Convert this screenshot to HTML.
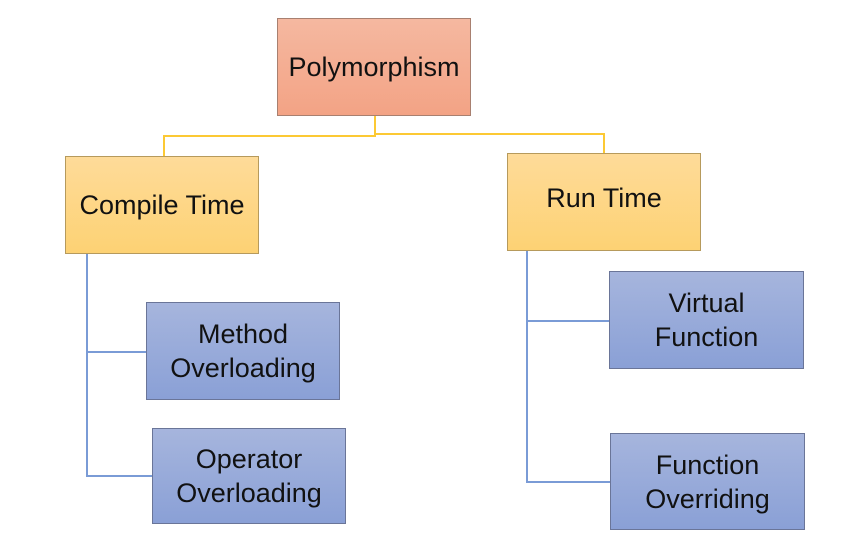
<!DOCTYPE html>
<html><head><style>
body{margin:0;width:857px;height:550px;background:#fff;position:relative;overflow:hidden;font-family:"Liberation Sans",sans-serif;}
.b{position:absolute;box-sizing:border-box;display:flex;align-items:center;justify-content:center;text-align:center;font-size:27px;line-height:34px;color:#111;white-space:nowrap;}
.r{background:linear-gradient(#f5b8a0,#f3a385);border:1px solid #a88070;}
.y{background:linear-gradient(#fedb99,#fdd274);border:1px solid #b69a5c;}
.u{background:linear-gradient(#a6b5dd,#8aa0d6);border:1px solid #6a7598;}
.l{position:absolute;}
.yl{background:#fcc934;}
.bl{background:#7a9bd6;}
</style></head><body>
<div class="l yl" style="left:374px;top:116px;width:2px;height:21px"></div>
<div class="l yl" style="left:163px;top:135px;width:213px;height:2px"></div>
<div class="l yl" style="left:374px;top:133px;width:231px;height:2px"></div>
<div class="l yl" style="left:163px;top:135px;width:2px;height:21px"></div>
<div class="l yl" style="left:603px;top:133px;width:2px;height:20px"></div>
<div class="l bl" style="left:86px;top:254px;width:2px;height:223px"></div>
<div class="l bl" style="left:86px;top:351px;width:60px;height:2px"></div>
<div class="l bl" style="left:86px;top:475px;width:66px;height:2px"></div>
<div class="l bl" style="left:526px;top:251px;width:2px;height:232px"></div>
<div class="l bl" style="left:526px;top:320px;width:84px;height:2px"></div>
<div class="l bl" style="left:526px;top:481px;width:85px;height:2px"></div>
<div class="b r" style="left:277px;top:18px;width:194px;height:98px">Polymorphism</div>
<div class="b y" style="left:65px;top:156px;width:194px;height:98px">Compile Time</div>
<div class="b y" style="left:507px;top:153px;width:194px;height:98px;padding-bottom:8px">Run Time</div>
<div class="b u" style="left:146px;top:302px;width:194px;height:98px">Method<br>Overloading</div>
<div class="b u" style="left:152px;top:428px;width:194px;height:96px">Operator<br>Overloading</div>
<div class="b u" style="left:609px;top:271px;width:195px;height:98px">Virtual<br>Function</div>
<div class="b u" style="left:610px;top:433px;width:195px;height:97px">Function<br>Overriding</div>
</body></html>
